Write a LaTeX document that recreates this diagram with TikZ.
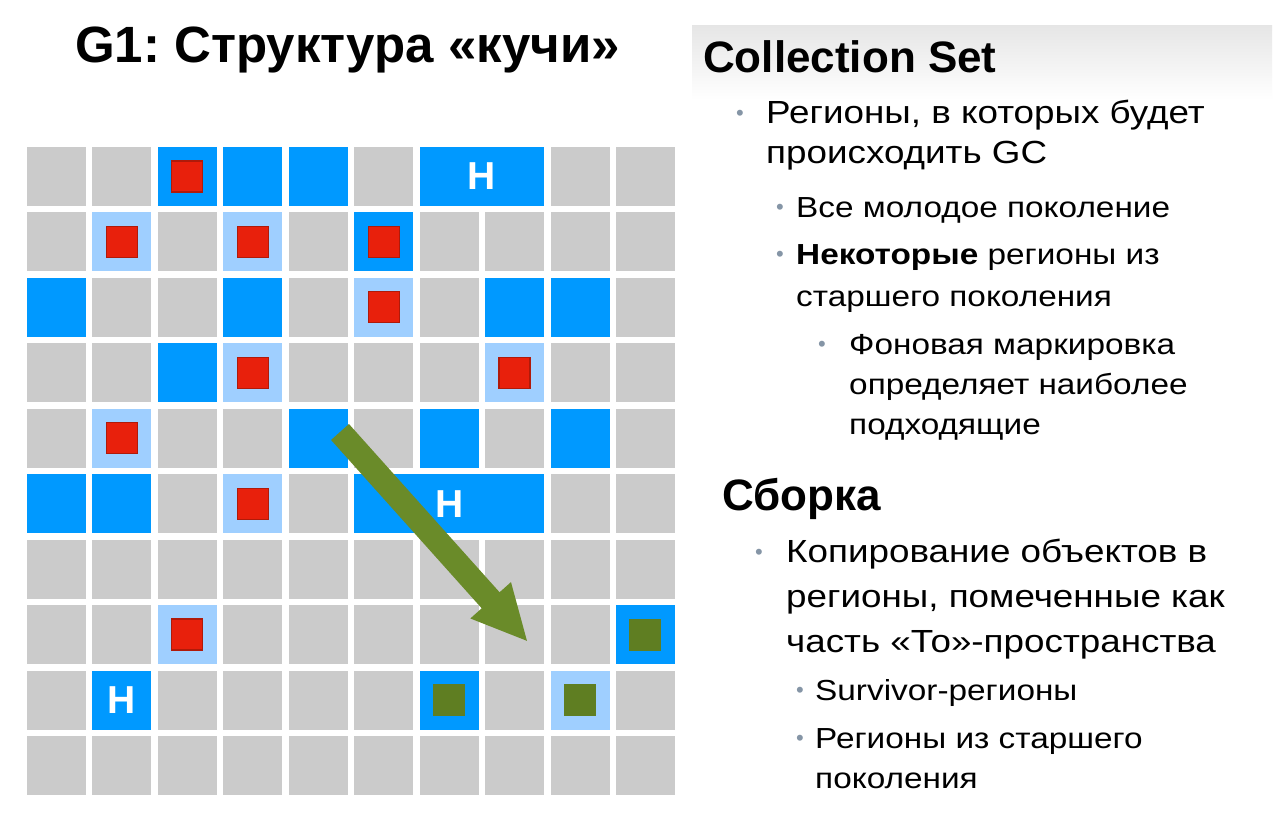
\documentclass[tikz,border=0pt]{standalone}
\usepackage{fontspec}
\setmainfont{Liberation Sans}
\newfontfamily\widesans[FakeStretch=1.15]{Liberation Sans}
\usetikzlibrary{arrows.meta,calc}
\frenchspacing

\definecolor{regiongray}{HTML}{CBCBCB}
\definecolor{regionblue}{HTML}{0099FF}
\definecolor{regionlight}{HTML}{9FCFFF}
\definecolor{liveobj}{HTML}{E8200C}
\definecolor{liveedge}{HTML}{B01A0A}
\definecolor{copiedobj}{HTML}{5F7E22}
\definecolor{arrowgreen}{HTML}{6A8B29}
\definecolor{bulletgray}{HTML}{8595A6}

\begin{document}
\begin{tikzpicture}[x=1pt,y=-1pt,
  region/.style={rectangle, minimum width=59pt, minimum height=59pt, inner sep=0pt, outer sep=0pt},
  freeregion/.style={region, fill=regiongray},
  youngregion/.style={region, fill=regionblue},
  survregion/.style={region, fill=regionlight},
  humongous/.style={region, fill=regionblue, text=white, font=\bfseries\fontsize{39}{39}\selectfont},
  redobj/.style={rectangle, minimum size=31pt, inner sep=0pt, fill=liveobj, draw=liveedge, line width=1.2pt},
  greenobj/.style={rectangle, minimum size=32pt, inner sep=0pt, fill=copiedobj},
  movearrow/.style={arrowgreen, line width=24pt, -{Triangle[width=50pt,length=56pt]}},
  titletext/.style={anchor=base west, inner sep=0pt, font=\bfseries\fontsize{51}{51}\selectfont},
  headtext/.style={anchor=base west, inner sep=0pt, font=\bfseries\fontsize{44}{44}\selectfont},
  levelone/.style={anchor=base west, inner sep=0pt, font=\widesans\fontsize{32}{32}\selectfont},
  leveltwo/.style={anchor=base west, inner sep=0pt, font=\widesans\fontsize{29}{29}\selectfont},
  bulletmark/.style={anchor=base, inner sep=0pt, text=bulletgray, font=\fontsize{22}{22}\selectfont},
]
% page
\useasboundingbox[fill=white] (0,0) rectangle (1280,814);

% title
\node[titletext] (title) at (75,62) {G1: Структура «кучи»};

% heap regions: 10 x 10 grid of free regions
\foreach \r in {1,...,10}
  \foreach \c in {1,...,10}
    \node[freeregion] (cell-\r-\c) at ({56.5+(\c-1)*65.44},{176.5+(\r-1)*65.44}) {};

% young (eden) regions
\foreach \r/\c in {1/3,1/4,1/5,2/6,3/1,3/4,3/8,3/9,4/3,5/5,5/7,5/9,6/1,6/2,8/10,9/7}
  \node[youngregion] (young-\r-\c) at (cell-\r-\c) {};

% survivor regions
\foreach \r/\c in {2/2,2/4,3/6,4/4,4/8,5/2,6/4,8/3,9/9}
  \node[survregion] (surv-\r-\c) at (cell-\r-\c) {};

% humongous regions
\node[humongous, minimum width=124.44pt] (hum-a) at ($(cell-1-7)!0.5!(cell-1-8)$) {H};
\node[humongous, minimum width=189.88pt] (hum-b) at (cell-6-7) {H};
\node[humongous] (hum-c) at (cell-9-2) {H};

% live objects
\foreach \r/\c in {1/3,2/2,2/4,2/6,3/6,4/4,4/8,5/2,6/4,8/3}
  \node[redobj] (live-\r-\c) at (cell-\r-\c) {};

% copied objects
\foreach \r/\c in {8/10,9/7,9/9}
  \node[greenobj] (copy-\r-\c) at (cell-\r-\c) {};

% evacuation arrow
\coordinate (movefrom) at (340,432);
\coordinate (moveto) at (528,642);
\draw[movearrow] (movefrom) -- (moveto);

% header band
\shade[top color=black!10, bottom color=white] (692,25) rectangle (1272,100);

% Collection Set
\node[headtext] (cs) at (703,72) {Collection Set};
\node[bulletmark] (b1) at (740,120) {•};
\node[levelone] (cs1a) at (766,123) {Регионы, в которых будет};
\node[levelone] (cs1b) at (766,163) {происходить GC};
\node[bulletmark] (b2) at (780,214) {•};
\node[leveltwo] (cs2) at (796,217) {Все молодое поколение};
\node[bulletmark] (b3) at (780,261) {•};
\node[leveltwo] (cs3a) at (796,264) {\textbf{Некоторые} регионы из};
\node[leveltwo] (cs3b) at (796,306) {старшего поколения};
\node[bulletmark] (b4) at (822,351) {•};
\node[leveltwo] (cs4a) at (849,354) {Фоновая маркировка};
\node[leveltwo] (cs4b) at (849,394) {определяет наиболее};
\node[leveltwo] (cs4c) at (849,434) {подходящие};

% Evacuation
\node[headtext] (ev) at (722,510) {Сборка};
\node[bulletmark] (b5) at (759,559) {•};
\node[levelone] (ev1a) at (786,562) {Копирование объектов в};
\node[levelone] (ev1b) at (786,607) {регионы, помеченные как};
\node[levelone] (ev1c) at (786,652) {часть «То»-пространства};
\node[bulletmark] (b6) at (800,697) {•};
\node[leveltwo] (ev2) at (815,700) {Survivor-регионы};
\node[bulletmark] (b7) at (800,745) {•};
\node[leveltwo] (ev3a) at (815,748) {Регионы из старшего};
\node[leveltwo] (ev3b) at (815,788) {поколения};
\end{tikzpicture}
\end{document}
